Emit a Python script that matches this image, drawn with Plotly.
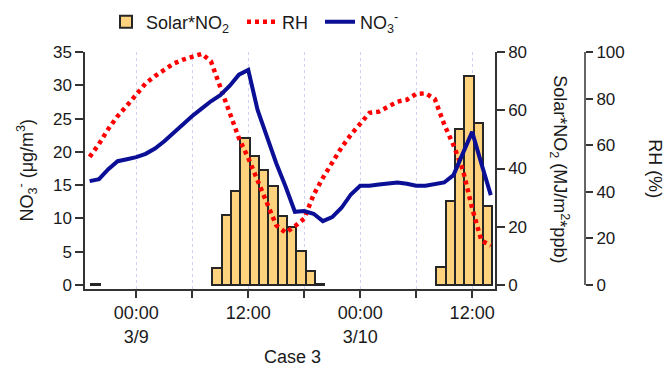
import plotly.graph_objects as go
import pandas as pd

# ---- data ----
line_times = pd.date_range("2019-03-08 19:00", "2019-03-10 14:00", freq="1h")
no3 = [15.6, 15.9, 17.4, 18.6, 18.9, 19.2, 19.7, 20.5, 21.6, 22.9, 24.2, 25.4, 26.5, 27.6,
       28.5, 29.9, 31.6, 32.3, 26.3, 22.3, 18.3, 14.8, 11.0, 11.1, 10.7, 9.6, 10.2, 11.6,
       13.6, 14.9, 14.9, 15.1, 15.3, 15.4, 15.2, 14.9, 14.9, 15.1, 15.4, 16.5, 19.8, 23.0,
       18.2, 13.5]
rh = [55, 60.5, 67, 72.5, 77, 82, 86.5, 89.7, 92.5, 95, 96.7, 98.2, 99.2, 96, 85.3, 74.4,
      63, 54.5, 45.2, 35.5, 25.6, 22.5, 25.2, 28.5, 38.7, 46, 52.9, 59, 64.5, 69, 73.9, 74.4,
      76.5, 78.7, 79.5, 82, 82.3, 79.8, 69, 60, 49.5, 33, 19, 17]

solar_times = ["2019-03-08 19:00",
               "2019-03-09 08:00", "2019-03-09 09:00", "2019-03-09 10:00", "2019-03-09 11:00",
               "2019-03-09 12:00", "2019-03-09 13:00", "2019-03-09 14:00", "2019-03-09 15:00",
               "2019-03-09 16:00", "2019-03-09 17:00", "2019-03-09 18:00", "2019-03-09 19:00",
               "2019-03-10 08:00", "2019-03-10 09:00", "2019-03-10 10:00", "2019-03-10 11:00",
               "2019-03-10 12:00", "2019-03-10 13:00"]
solar = [0.5, 5.7, 24.0, 32.3, 50.4, 44.3, 39.5, 34.0, 23.7, 19.8, 11.7, 4.8, 0.4,
         6.1, 28.8, 53.6, 71.9, 55.5, 27.2]

tick_vals = ["2019-03-09 00:00", "2019-03-09 06:00", "2019-03-09 12:00", "2019-03-09 18:00",
             "2019-03-10 00:00", "2019-03-10 06:00", "2019-03-10 12:00"]
tick_text = ["00:00<br>3/9", "", "12:00", "", "00:00<br>3/10", "", "12:00"]

FONT = "Arial, Liberation Sans, sans-serif"
FS = 17
FL = 18
AX = "#333333"
TXT = "#1a1a1a"

fig = go.Figure()
fig.add_trace(go.Bar(
    x=solar_times, y=solar, yaxis="y", name="Solar*NO<sub>2</sub>", legend="legend",
    width=3600000, offset=540000,
    marker=dict(color="#FFD27E", line=dict(color="#262626", width=2)),
))
fig.add_trace(go.Scatter(
    x=line_times, y=rh, yaxis="y2", name="RH", mode="lines", legend="legend2",
    line=dict(color="#FF0000", width=4.5, dash="4px,4px"),
))
fig.add_trace(go.Scatter(
    x=line_times, y=no3, yaxis="y3", name="NO<sub>3</sub><sup>-</sup>", mode="lines",
    legend="legend3",
    line=dict(color="#0a0f96", width=4),
))

XD = 410 / 561
RHPOS = (585 - 85) / 561
LEG_Y = 1 - 22 / 371


def leg(xpx):
    return dict(orientation="h", xref="container", yref="container",
                x=xpx / 666, xanchor="left", y=LEG_Y, yanchor="middle",
                font=dict(size=FL), bgcolor="rgba(0,0,0,0)")


fig.update_layout(
    width=666, height=371,
    margin=dict(l=85, r=20, t=52, b=82, autoexpand=False),
    paper_bgcolor="white", plot_bgcolor="white",
    font=dict(family=FONT, size=FS, color=TXT),
    showlegend=True,
    legend=leg(106), legend2=leg(242), legend3=leg(320),
    xaxis=dict(
        domain=[0, XD], type="date", automargin=False,
        range=["2019-03-08 18:30", "2019-03-10 14:27"],
        tickvals=tick_vals, ticktext=tick_text, tickfont=dict(size=FL),
        ticks="outside", ticklen=7, tickwidth=1.5, tickcolor=AX,
        showline=True, linecolor=AX, linewidth=1.5,
        showgrid=True, gridcolor="#d2d2ee", griddash="dot", gridwidth=1,
        zeroline=False, anchor="y",
    ),
    yaxis=dict(
        side="right", anchor="x", range=[-1.373, 80], automargin=False,
        tickvals=[0, 20, 40, 60, 80],
        ticks="outside", ticklen=8, tickwidth=1.5, tickcolor=AX,
        showline=True, linecolor=AX, linewidth=1.5,
        showgrid=False, zeroline=False,
    ),
    yaxis2=dict(
        overlaying="y", side="right", anchor="free", position=RHPOS, automargin=False,
        range=[-1.717, 100], tickvals=[0, 20, 40, 60, 80, 100],
        ticks="outside", ticklen=7, tickwidth=1.5, tickcolor=AX,
        showline=False, showgrid=False, zeroline=False,
    ),
    yaxis3=dict(
        overlaying="y", side="left", anchor="x", range=[-0.6, 35], automargin=False,
        tickvals=[0, 5, 10, 15, 20, 25, 30, 35],
        ticks="outside", ticklen=8, tickwidth=1.5, tickcolor=AX,
        showline=True, linecolor=AX, linewidth=1.5,
        showgrid=False, zeroline=False,
    ),
    bargap=0,
)

fig.add_shape(type="line", xref="paper", yref="y2", x0=RHPOS, x1=RHPOS, y0=0, y1=100,
              line=dict(color=AX, width=1.5))

fig.add_annotation(text="NO<sub>3</sub><sup>-</sup> (μg/m<sup>3</sup>)", textangle=-90,
                   xref="paper", yref="paper", x=(27 - 85) / 561, y=0.5,
                   xanchor="center", yanchor="middle",
                   showarrow=False, font=dict(size=FL))
fig.add_annotation(text="Solar*NO<sub>2</sub> (MJ/m<sup>2</sup>*ppb)", textangle=90,
                   xref="paper", yref="paper", x=(560 - 85) / 561, y=0.505,
                   xanchor="center", yanchor="middle",
                   showarrow=False, font=dict(size=FL))
fig.add_annotation(text="RH (%)", textangle=90,
                   xref="paper", yref="paper", x=(655 - 85) / 561, y=0.51,
                   xanchor="center", yanchor="middle",
                   showarrow=False, font=dict(size=FL))
fig.add_annotation(text="Case 3", xref="paper", yref="paper",
                   x=(292 - 85) / 561, y=(289 - 357) / 237,
                   xanchor="center", yanchor="middle",
                   showarrow=False, font=dict(size=FL))

fig.write_html("out.html", config={"displayModeBar": False},
               post_script="document.body.style.margin='0px';document.body.style.padding='0px';")
